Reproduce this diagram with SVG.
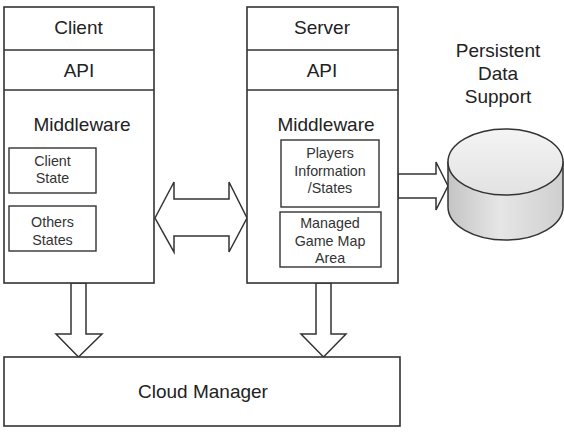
<svg xmlns="http://www.w3.org/2000/svg" width="564" height="433" viewBox="0 0 564 433">
<defs>
<style>
.box{fill:#fff;stroke:#333;stroke-width:1.6}
.ibox{fill:#fff;stroke:#333;stroke-width:1.4}
.arr{fill:#fff;stroke:#333;stroke-width:1.5;stroke-linejoin:miter}
.t{font-family:"Liberation Sans",Arial,sans-serif;font-size:19px;fill:#222;text-anchor:middle}
.s{font-family:"Liberation Sans",Arial,sans-serif;font-size:14.3px;fill:#333;text-anchor:middle}
</style>
<linearGradient id="side" x1="0" y1="0" x2="1" y2="0">
<stop offset="0" stop-color="#c4c4c4"/>
<stop offset="0.45" stop-color="#e6e6e6"/>
<stop offset="1" stop-color="#cfcfcf"/>
</linearGradient>
<linearGradient id="top" x1="0" y1="0" x2="0" y2="1">
<stop offset="0" stop-color="#f4f4f4"/>
<stop offset="1" stop-color="#e2e2e2"/>
</linearGradient>
</defs>
<rect width="564" height="433" fill="#fff"/>

<g id="connectors">
<polygon class="arr" points="71,283 71,334 56,334 78.5,357 102,334 86,334 86,283"/>
<polygon class="arr" points="316,283 316,334 301,334 323.5,357 346,334 331,334 331,283"/>
<polygon class="arr" points="155,218 174,182 174,199 229,199 229,182 247,218 229,252 229,236 174,236 174,252"/>
<polygon class="arr" points="398,174 436,174 436,162 448,186 436,210 436,198 398,198"/>
</g>

<g id="client">
<rect class="box" x="4" y="7" width="150" height="276"/>
<line class="box" x1="4" y1="50" x2="154" y2="50"/>
<line class="box" x1="4" y1="90" x2="154" y2="90"/>
<text class="t" x="78.5" y="34">Client</text>
<text class="t" x="79" y="77">API</text>
<text class="t" x="82" y="131">Middleware</text>
</g>
<g id="client-state">
<rect class="ibox" x="9" y="148" width="87" height="45"/>
<text class="s" x="52.5" y="165.5">Client</text>
<text class="s" x="52.5" y="183">State</text>
</g>
<g id="others-states">
<rect class="ibox" x="9" y="206" width="87" height="45"/>
<text class="s" x="52.5" y="227">Others</text>
<text class="s" x="52.5" y="244.5">States</text>
</g>

<g id="server">
<rect class="box" x="247" y="7" width="151" height="276"/>
<line class="box" x1="247" y1="50" x2="398" y2="50"/>
<line class="box" x1="247" y1="90" x2="398" y2="90"/>
<text class="t" x="322" y="34">Server</text>
<text class="t" x="322" y="77">API</text>
<text class="t" x="326" y="131">Middleware</text>
</g>
<g id="players-info">
<rect class="ibox" x="281" y="140" width="98" height="67"/>
<text class="s" x="330" y="157.5">Players</text>
<text class="s" x="330" y="175.5">Information</text>
<text class="s" x="330" y="192.5">/States</text>
</g>
<g id="game-map">
<rect class="ibox" x="280" y="212" width="101" height="55"/>
<text class="s" x="330" y="227.5">Managed</text>
<text class="s" x="330" y="245.5">Game Map</text>
<text class="s" x="330" y="262.5">Area</text>
</g>

<g id="cloud-manager">
<rect class="box" x="4" y="357" width="396" height="69"/>
<text class="t" x="203" y="398">Cloud Manager</text>
</g>

<g id="persistent-data">
<path d="M448,162 V207 A57.5,33 0 0 0 563,207 V162 Z" fill="url(#side)" stroke="#333" stroke-width="1.5"/>
<ellipse cx="505.5" cy="162" rx="57.5" ry="33" fill="url(#top)" stroke="#333" stroke-width="1.5"/>
<text class="t" x="498" y="56.5">Persistent</text>
<text class="t" x="498" y="80">Data</text>
<text class="t" x="498" y="102.5">Support</text>
</g>
</svg>
